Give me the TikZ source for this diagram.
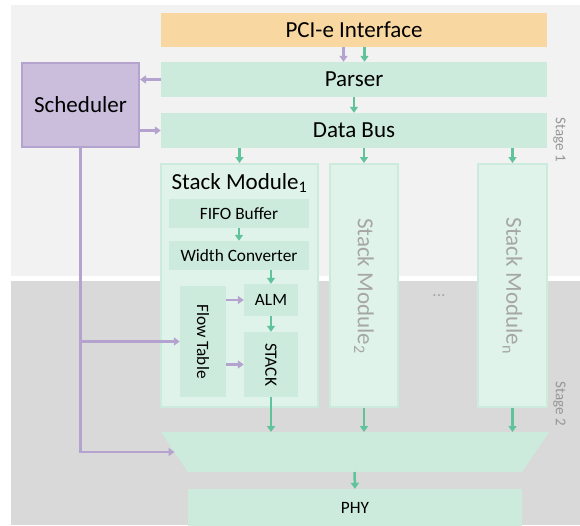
\documentclass[tikz,border=0pt]{standalone}
\usepackage{fontspec}
\setmainfont{Carlito}
\usetikzlibrary{arrows.meta}
\definecolor{bgone}{RGB}{242,242,242}
\definecolor{bgtwo}{RGB}{217,217,217}
\definecolor{pcifill}{RGB}{248,215,160}
\definecolor{gfill}{RGB}{204,235,220}
\definecolor{glight}{RGB}{224,243,234}
\definecolor{gline}{RGB}{95,195,155}
\definecolor{pfill}{RGB}{203,190,221}
\definecolor{pline}{RGB}{180,162,207}
\definecolor{labgray}{RGB}{150,150,150}
\definecolor{modgray}{RGB}{166,166,166}
\begin{document}
\begin{tikzpicture}[x=1pt,y=-1pt,
  bigtxt/.style={font=\fontsize{23}{27}\selectfont},
  midtxt/.style={font=\fontsize{17.3}{20}\selectfont},
  gbox/.style={rectangle,fill=gfill,inner sep=0pt,text=black},
  modbox/.style={rectangle,fill=glight,draw=gfill,line width=2pt,inner sep=0pt},
  garr/.style={draw=gline,line width=2.5pt,-{Triangle[width=8pt,length=6pt]}},
  parr/.style={draw=pline,line width=2.5pt,-{Triangle[width=8pt,length=6pt]}},
  pline/.style={draw=pline,line width=2.5pt},
]
\useasboundingbox (0,0) rectangle (580,525);
\fill[bgone] (11,5) rectangle (580,276);
\fill[bgtwo] (11,281) rectangle (580,525);

% top row
\node[rectangle,fill=pcifill,inner sep=0pt,minimum width=386pt,minimum height=34pt,bigtxt] (pcie) at (354,30) {PCI-e Interface};
\node[gbox,minimum width=386pt,minimum height=35pt,bigtxt] (parser) at (354,79.5) {Parser};
\node[gbox,minimum width=386pt,minimum height=35pt,bigtxt] (databus) at (354,130.5) {Data Bus};
\node[rectangle,fill=pfill,draw=pline,line width=2pt,inner sep=0pt,minimum width=117pt,minimum height=84pt,bigtxt] (sched) at (80.5,105) {Scheduler};

% stack modules
\node[modbox,minimum width=157pt,minimum height=243pt] (sm1) at (239.5,285.5) {};
\node[bigtxt,inner sep=0pt] (sm1title) at (239.5,183) {Stack Module\textsubscript{1}};
\node[modbox,minimum width=68pt,minimum height=243pt] (sm2) at (364,285.5) {};
\node[bigtxt,text=modgray,rotate=-90,inner sep=0pt] (sm2t) at (364,286) {Stack Module\textsubscript{2}};
\node[modbox,minimum width=69pt,minimum height=243pt] (smn) at (512.5,285.5) {};
\node[bigtxt,text=modgray,rotate=-90,inner sep=0pt] (smnt) at (512.5,286) {Stack Module\textsubscript{n}};
\node[midtxt,text=modgray] (dots) at (439,296) {...};

\node[gbox,minimum width=140pt,minimum height=29pt,midtxt] (fifo) at (239,213.5) {FIFO Buffer};
\node[gbox,minimum width=140pt,minimum height=29pt,midtxt] (width) at (239,255.5) {Width Converter};
\node[gbox,minimum width=54pt,minimum height=32pt,midtxt] (alm) at (271,300) {ALM};
\node[gbox,minimum width=46pt,minimum height=111pt] (flow) at (203,341.5) {};
\node[midtxt,rotate=-90] (flowt) at (203,341.5) {Flow Table};
\node[gbox,minimum width=54pt,minimum height=65pt] (stack) at (271,364.5) {};
\node[midtxt,rotate=-90] (stackt) at (271,364.5) {STACK};

% mux trapezoid
\fill[gfill] (161,432) -- (549,432) -- (522,472) -- (188,472) -- cycle;
\coordinate (muxT) at (354,432);
\coordinate (muxB) at (354.5,472);
\coordinate (muxL) at (174.5,452);
\node[gbox,minimum width=334pt,minimum height=37pt,midtxt] (phy) at (355,507.5) {PHY};

% stage labels
\node[text=labgray,rotate=-90,font=\fontsize{15}{18}\selectfont] (st1) at (559.5,140) {Stage 1};
\node[text=labgray,rotate=-90,font=\fontsize{15}{18}\selectfont] (st2) at (559.5,404) {Stage 2};

% arrows
\draw[parr] ([xshift=-10.5pt]pcie.south) -- ([xshift=-10.5pt]parser.north);
\draw[garr] ([xshift=10.5pt]pcie.south) -- ([xshift=10.5pt]parser.north);
\draw[parr] (parser.west) -- (sched.east |- parser.west);
\draw[parr] (sched.east |- databus.west) -- (databus.west);
\draw[garr] (parser.south) -- (databus.north);
\draw[garr] (databus.south -| sm1.north) -- (sm1.north);
\draw[garr] (databus.south -| sm2.north) -- (sm2.north);
\draw[garr] (databus.south -| smn.north) -- (smn.north);
\draw[garr] (fifo.south) -- (width.north);
\draw[garr] (width.south -| alm.north) -- (alm.north);
\draw[garr] (alm.south) -- (stack.north);
\draw[parr] (flow.east |- alm.west) -- (alm.west);
\draw[parr] (flow.east |- stack.west) -- (stack.west);
\draw[parr] (sched.south) |- (muxL);
\draw[parr] (sched.south |- flow.west) -- (flow.west);
\draw[garr] (stack.south) -- (stack.south |- muxT);
\draw[garr] (sm2.south) -- (sm2.south |- muxT);
\draw[garr] (smn.south) -- (smn.south |- muxT);
\draw[garr] (muxB) -- (phy.north);
\end{tikzpicture}
\end{document}
